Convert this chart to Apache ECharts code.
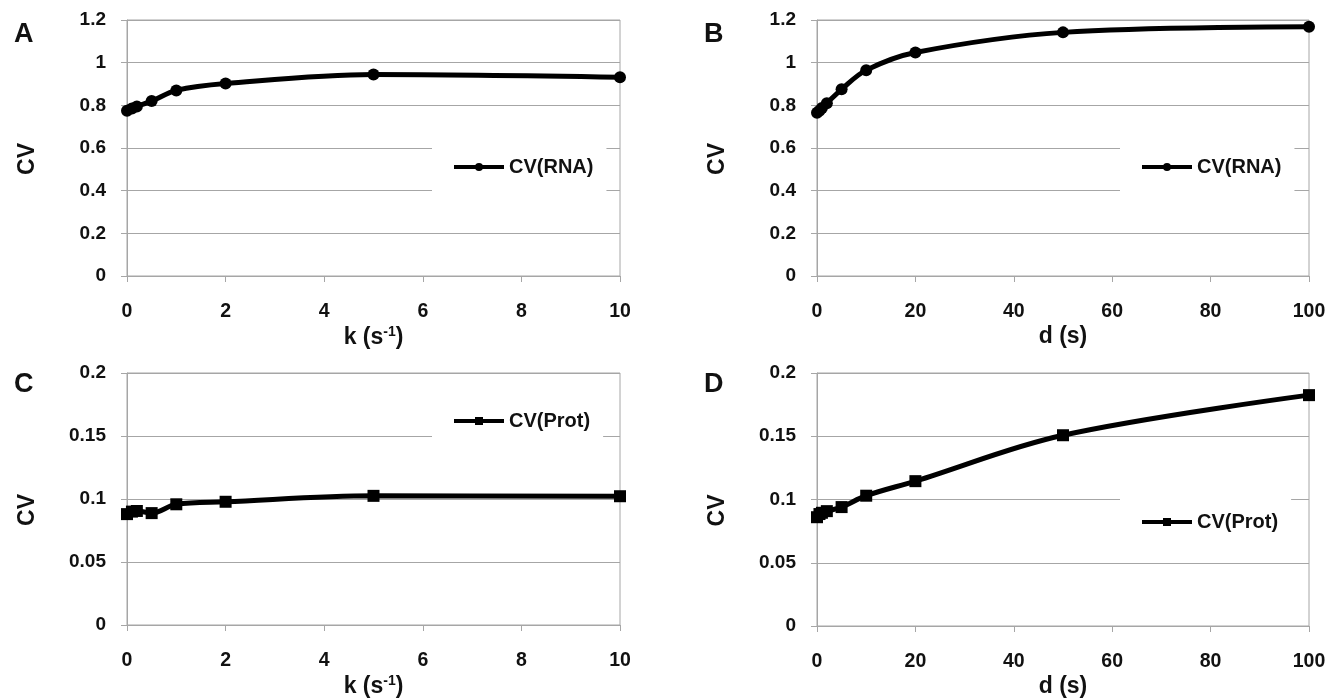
<!DOCTYPE html>
<html>
<head>
<meta charset="utf-8">
<script src="https://cdn.jsdelivr.net/npm/echarts@6/dist/echarts.min.js"></script>
<style>
html,body{margin:0;padding:0;background:#fff;}
#chart{width:1337px;height:699px;}
</style>
</head>
<body>
<div id="chart"></div>
<script>
// ---- data ----
const kValues = [0, 0.1, 0.2, 0.5, 1, 2, 5, 10];
const dValues = [0, 0.5, 1, 2, 5, 10, 20, 50, 100];
const cvRnaK = [0.775, 0.785, 0.795, 0.82, 0.87, 0.902, 0.945, 0.932];
const cvRnaD = [0.765, 0.775, 0.787, 0.81, 0.875, 0.965, 1.048, 1.142, 1.168];
const cvProtK = [0.088, 0.0900, 0.0905, 0.0888, 0.0958, 0.0978, 0.1025, 0.1022];
const cvProtD = [0.086, 0.0885, 0.0895, 0.0908, 0.0940, 0.1030, 0.1145, 0.1508, 0.1825];
const panelLetters = ['A', 'B', 'C', 'D'];
const seriesNames = ['CV(RNA)', 'CV(RNA)', 'CV(Prot)', 'CV(Prot)'];
const yAxisTitle = 'CV';

const FONT = "'Liberation Sans', Arial, sans-serif";
const GRAY = '#a6a6a6';

function pairs(xs, ys) { return xs.map((x, i) => [x, ys[i]]); }

const grids = [
  { left: 127, right: 717, top: 20, bottom: 423 },
  { left: 817, right: 28, top: 20, bottom: 423 },
  { left: 127, right: 717, top: 373, bottom: 70 },
  { left: 817, right: 28, top: 373, bottom: 70 }
].map(g => Object.assign({ show: true, borderColor: GRAY, borderWidth: 1, backgroundColor: 'transparent' }, g));

const kName = 'k (s{sup|-1})';
const dName = 'd (s)';
function xAxisFor(i, max, interval, name) {
  return {
    gridIndex: i, type: 'value', min: 0, max: max, interval: interval,
    name: name, nameLocation: 'middle', nameGap: 49,
    nameTextStyle: {
      fontFamily: FONT, fontWeight: 'bold', fontSize: 23, color: '#111',
      rich: { sup: { fontFamily: FONT, fontWeight: 'bold', fontSize: 14, color: '#111', padding: [0, 0, 11, 0] } }
    },
    axisLine: { show: true, lineStyle: { color: GRAY, width: 1 } },
    axisTick: { show: true, length: 6, lineStyle: { color: GRAY } },
    axisLabel: { margin: 26, fontFamily: FONT, fontWeight: 'bold', fontSize: 19.5, color: '#111' },
    splitLine: { show: false }
  };
}
function yAxisFor(i, max, interval) {
  return {
    gridIndex: i, type: 'value', min: 0, max: max, interval: interval,
    name: yAxisTitle, nameLocation: 'middle', nameGap: 88, nameRotate: 90,
    nameTextStyle: { fontFamily: FONT, fontWeight: 'bold', fontSize: 23, color: '#111', padding: [0, 22, 0, 0] },
    axisLine: { show: true, lineStyle: { color: GRAY, width: 1 } },
    axisTick: { show: true, length: 6, lineStyle: { color: GRAY } },
    axisLabel: { margin: 21, fontFamily: FONT, fontWeight: 'bold', fontSize: 19, color: '#111' },
    splitLine: { show: true, lineStyle: { color: GRAY, width: 1 } }
  };
}

const legendPos = [
  { left: 432, top: 142 },
  { left: 1120, top: 142 },
  { left: 432, top: 396 },
  { left: 1120, top: 497 }
];
const legends = legendPos.map((p, i) => ({
  left: p.left, top: p.top,
  data: [seriesNames[i]],
  backgroundColor: '#fff',
  padding: [15, 13, 15, 20],
  itemWidth: 50, itemHeight: 10,
  selectedMode: false,
  lineStyle: { width: 4, color: '#000' },
  textStyle: { fontFamily: FONT, fontWeight: 'bold', fontSize: 20, color: '#111', lineHeight: 20 }
}));

function seriesFor(i, data, symbol, size) {
  return {
    type: 'line', name: seriesNames[i], xAxisIndex: i, yAxisIndex: i,
    data: data, smooth: 0.35, clip: false,
    symbol: symbol, symbolSize: size, showAllSymbol: true,
    lineStyle: { color: '#000', width: 5 },
    itemStyle: { color: '#000' },
    emphasis: { disabled: true },
    animation: false
  };
}

const option = {
  animation: false,
  backgroundColor: '#fff',
  title: [
    { text: panelLetters[0], left: 14, top: 21 },
    { text: panelLetters[1], left: 704, top: 21 },
    { text: panelLetters[2], left: 14, top: 371 },
    { text: panelLetters[3], left: 704, top: 371 }
  ].map(t => Object.assign({ padding: 0, textStyle: { fontFamily: FONT, fontWeight: 'bold', fontSize: 27, color: '#111' } }, t)),
  grid: grids,
  xAxis: [
    xAxisFor(0, 10, 2, kName),
    xAxisFor(1, 100, 20, dName),
    xAxisFor(2, 10, 2, kName),
    xAxisFor(3, 100, 20, dName)
  ],
  yAxis: [
    yAxisFor(0, 1.2, 0.2),
    yAxisFor(1, 1.2, 0.2),
    yAxisFor(2, 0.2, 0.05),
    yAxisFor(3, 0.2, 0.05)
  ],
  legend: legends,
  series: [
    seriesFor(0, pairs(kValues, cvRnaK), 'circle', 12),
    seriesFor(1, pairs(dValues, cvRnaD), 'circle', 12),
    seriesFor(2, pairs(kValues, cvProtK), 'rect', 12),
    seriesFor(3, pairs(dValues, cvProtD), 'rect', 12)
  ]
};

const chart = echarts.init(document.getElementById('chart'), null, { renderer: 'canvas' });
chart.setOption(option);
</script>
</body>
</html>
